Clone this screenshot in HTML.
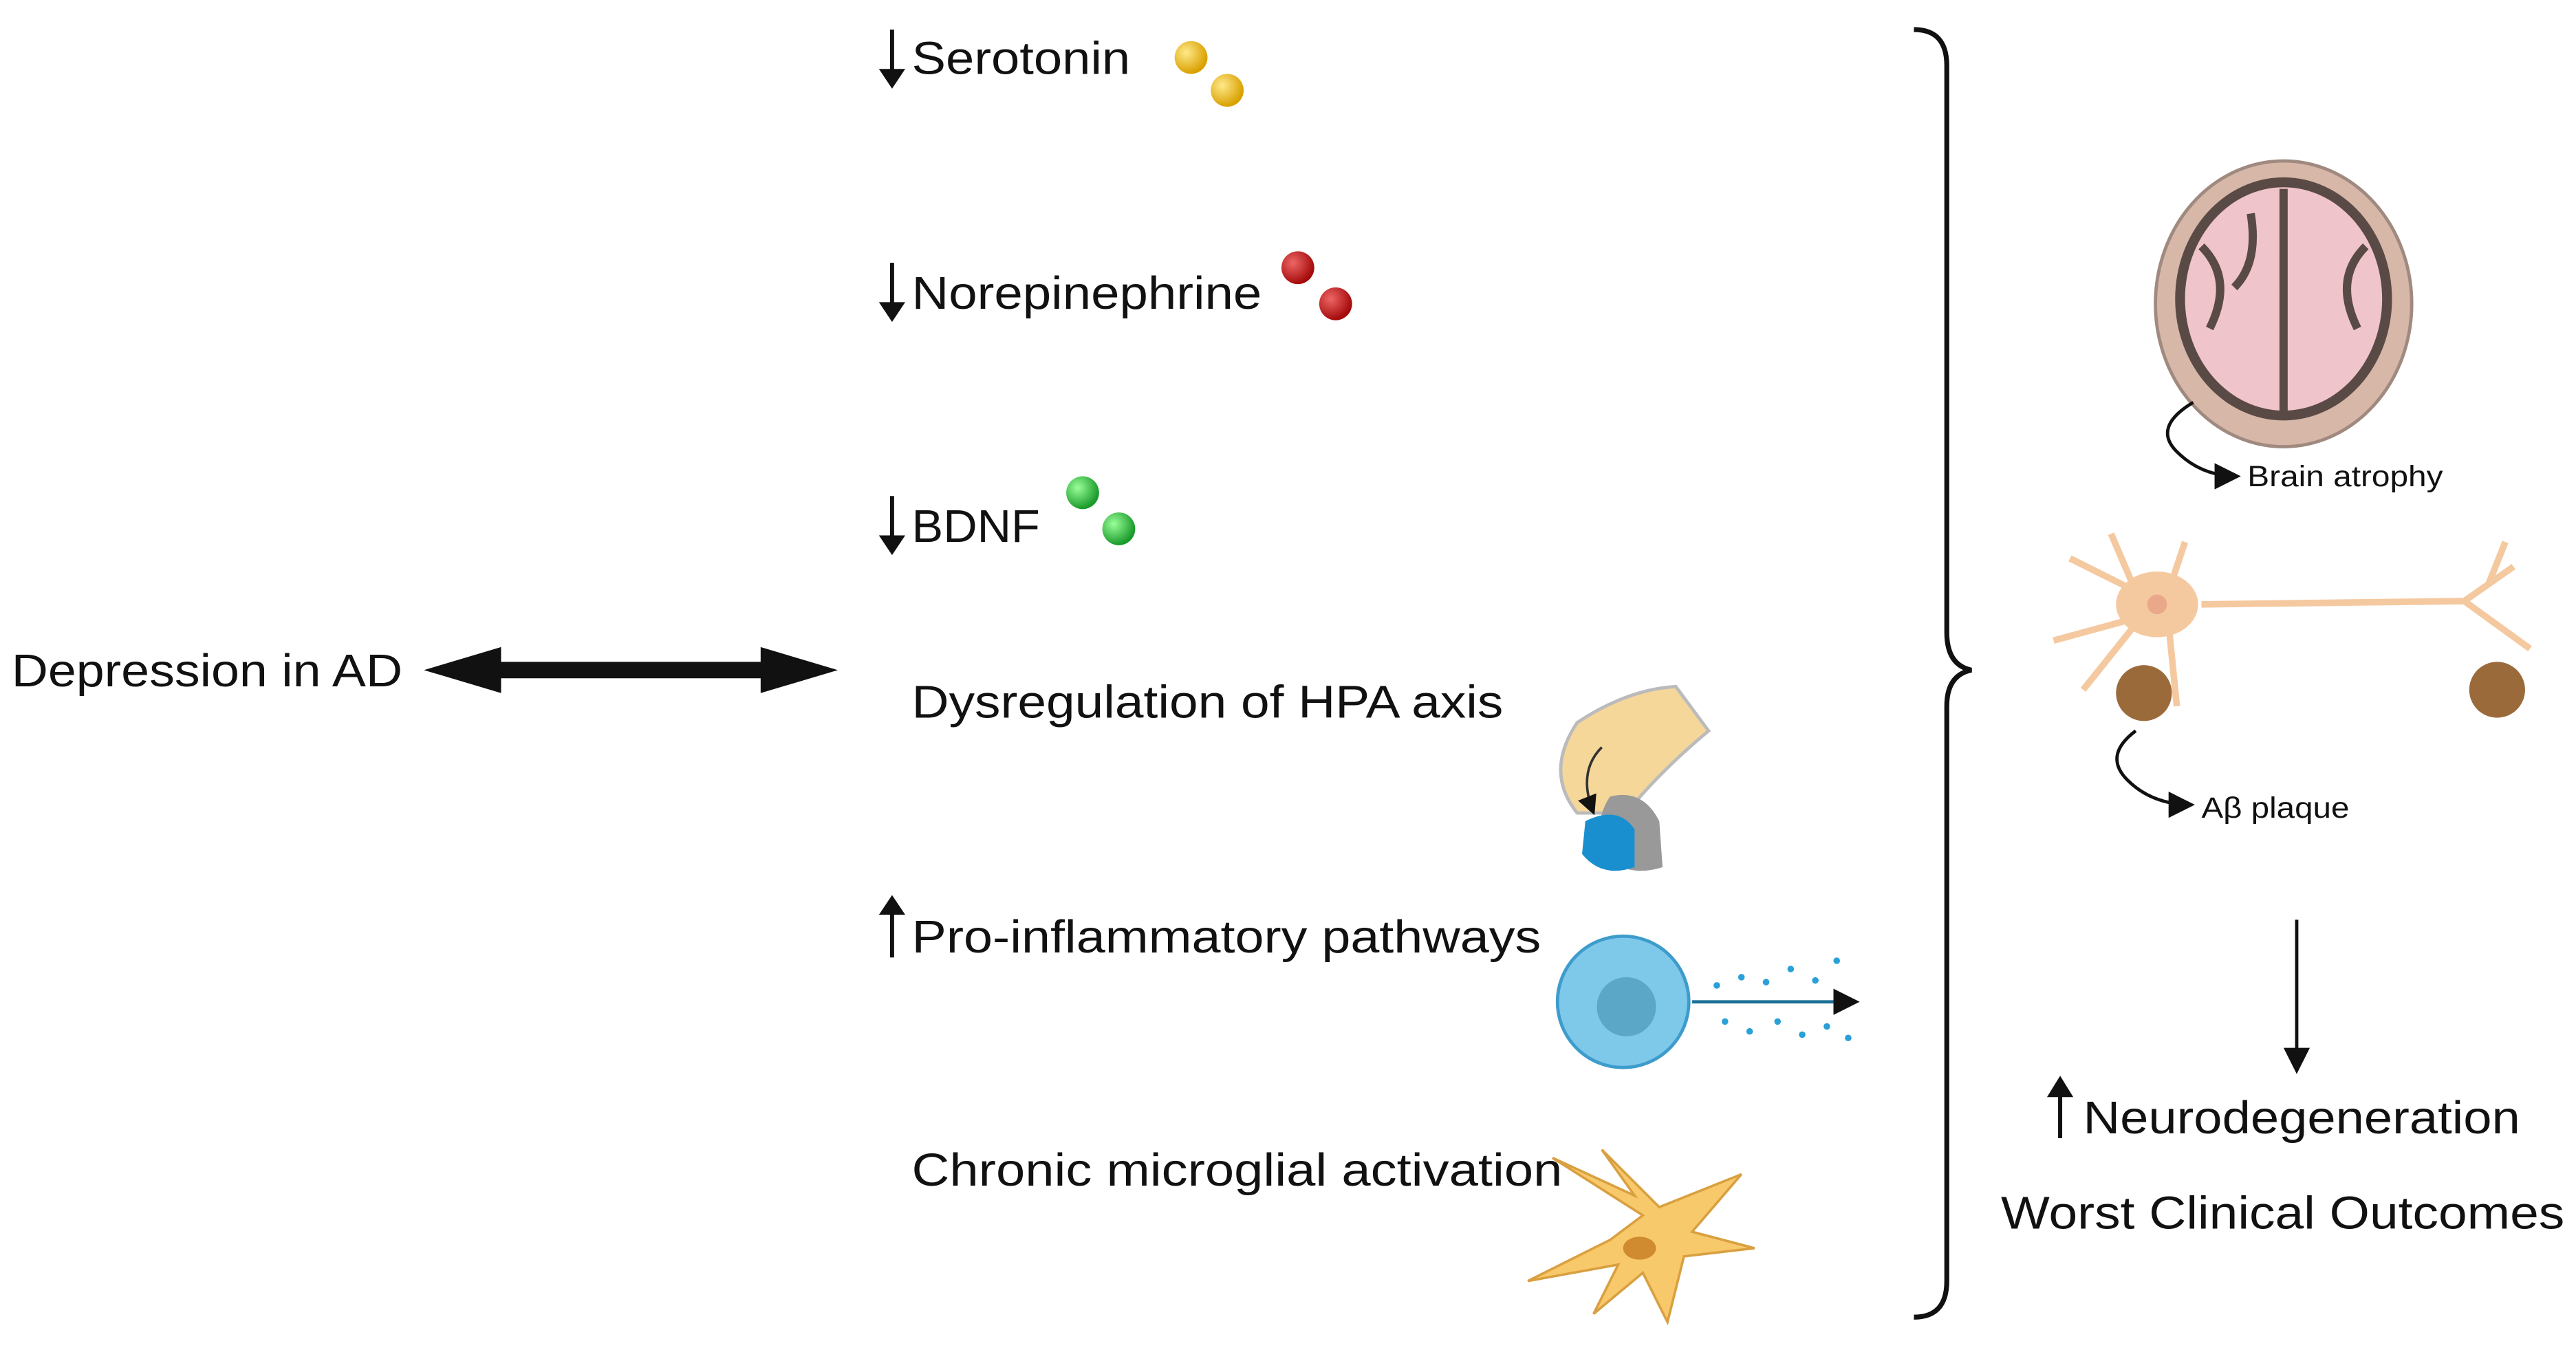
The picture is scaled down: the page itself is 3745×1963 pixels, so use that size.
<!DOCTYPE html>
<html><head><meta charset="utf-8"><style>
html,body{margin:0;padding:0;background:#fff;}
svg{display:block;}
text{font-family:"Liberation Sans",sans-serif;fill:#111;}
</style></head><body>
<svg width="3745" height="1963" viewBox="0 0 1568 822" preserveAspectRatio="none" xmlns="http://www.w3.org/2000/svg">
<defs>
<radialGradient id="gy" cx="35%" cy="35%" r="65%"><stop offset="0" stop-color="#ffe98a"/><stop offset="1" stop-color="#d9a000"/></radialGradient>
<radialGradient id="gr" cx="35%" cy="35%" r="65%"><stop offset="0" stop-color="#e66"/><stop offset="1" stop-color="#a50a0a"/></radialGradient>
<radialGradient id="gg" cx="35%" cy="35%" r="65%"><stop offset="0" stop-color="#9f9"/><stop offset="1" stop-color="#1a9a2a"/></radialGradient>
<marker id="ah" markerWidth="8" markerHeight="8" refX="7" refY="4" orient="auto"><path d="M0,0 L8,4 L0,8 z" fill="#111"/></marker>
</defs>
<text x="7" y="418" font-size="28" textLength="238" lengthAdjust="spacingAndGlyphs">Depression in AD</text>
<polygon points="258,408 305,394 305,403 463,403 463,394 510,408 463,422 463,413 305,413 305,422" fill="#111"/>
<g font-size="28">
<text x="555" y="45" textLength="133" lengthAdjust="spacingAndGlyphs">Serotonin</text>
<text x="555" y="188" textLength="213" lengthAdjust="spacingAndGlyphs">Norepinephrine</text>
<text x="555" y="330" textLength="78" lengthAdjust="spacingAndGlyphs">BDNF</text>
<text x="555" y="437" textLength="360" lengthAdjust="spacingAndGlyphs">Dysregulation of HPA axis</text>
<text x="555" y="580" textLength="383" lengthAdjust="spacingAndGlyphs">Pro-inflammatory pathways</text>
<text x="555" y="722" textLength="396" lengthAdjust="spacingAndGlyphs">Chronic microglial activation</text>
</g>
<g stroke="#111" stroke-width="2.5" fill="none">
<line x1="543" y1="18" x2="543" y2="48"/><line x1="543" y1="160" x2="543" y2="190"/><line x1="543" y1="302" x2="543" y2="332"/>
<line x1="543" y1="583" x2="543" y2="553"/>
</g>
<g fill="#111">
<polygon points="535,42 551,42 543,54"/><polygon points="535,184 551,184 543,196"/><polygon points="535,326 551,326 543,338"/>
<polygon points="535,557 551,557 543,545"/>
</g>
<circle cx="725" cy="35" r="10" fill="url(#gy)"/><circle cx="747" cy="55" r="10" fill="url(#gy)"/>
<circle cx="790" cy="163" r="10" fill="url(#gr)"/><circle cx="813" cy="185" r="10" fill="url(#gr)"/>
<circle cx="659" cy="300" r="10" fill="url(#gg)"/><circle cx="681" cy="322" r="10" fill="url(#gg)"/>
<path d="M960,440 Q990,420 1020,418 L1040,445 Q1010,470 990,495 L960,495 Q940,470 960,440z" fill="#f5d79a" stroke="#bbb" stroke-width="2"/>
<path d="M980,485 Q1000,480 1010,500 L1012,528 Q990,535 975,520 Q970,500 980,485z" fill="#999"/>
<path d="M965,500 Q985,490 995,505 L995,528 Q975,535 963,520z" fill="#1a8fd0"/>
<path d="M975,455 Q960,470 970,495" stroke="#333" stroke-width="1.5" fill="none" marker-end="url(#ah)"/>
<circle cx="988" cy="610" r="40" fill="#7ec8ea" stroke="#3d9ccc" stroke-width="2"/>
<circle cx="990" cy="613" r="18" fill="#5aa7c8"/>
<line x1="1030" y1="610" x2="1130" y2="610" stroke="#1a6f96" stroke-width="2" marker-end="url(#ah)"/>
<g fill="#2aa0d8">
<circle cx="1045" cy="600" r="2"/><circle cx="1060" cy="595" r="2"/><circle cx="1075" cy="598" r="2"/><circle cx="1090" cy="590" r="2"/><circle cx="1105" cy="597" r="2"/><circle cx="1118" cy="585" r="2"/>
<circle cx="1050" cy="622" r="2"/><circle cx="1065" cy="628" r="2"/><circle cx="1082" cy="622" r="2"/><circle cx="1097" cy="630" r="2"/><circle cx="1112" cy="625" r="2"/><circle cx="1125" cy="632" r="2"/>
</g>
<path d="M1000,740 L945,705 L995,728 L975,700 L1010,735 L1060,715 L1030,750 L1068,760 L1025,765 L1015,805 L1000,775 L970,800 L985,770 L930,780 L980,755z" fill="#f8c96a" stroke="#d9a040" stroke-width="1.5"/>
<ellipse cx="998" cy="760" rx="10" ry="7" fill="#d08a30"/>
<path d="M1165,18 Q1185,18 1185,40 L1185,385 Q1185,405 1200,408 Q1185,411 1185,430 L1185,780 Q1185,802 1165,802" stroke="#111" stroke-width="3" fill="none"/>
<ellipse cx="1390" cy="185" rx="78" ry="87" fill="#d7b7a8" stroke="#a08a80" stroke-width="2"/>
<ellipse cx="1390" cy="182" rx="66" ry="74" fill="#5a4a46"/>
<ellipse cx="1390" cy="182" rx="60" ry="68" fill="#f0c4cb"/>
<path d="M1390,115 L1390,250 M1340,150 Q1360,170 1345,200 M1440,150 Q1420,170 1435,200 M1370,130 Q1375,160 1360,175" stroke="#5a4a46" stroke-width="5" fill="none"/>
<path d="M1335,245 Q1310,260 1325,275 Q1340,290 1362,290" stroke="#111" stroke-width="2" fill="none" marker-end="url(#ah)"/>
<text x="1368" y="296" font-size="18" textLength="119" lengthAdjust="spacingAndGlyphs">Brain atrophy</text>
<g stroke="#f5c9a0" stroke-width="4" fill="none">
<path d="M1310,365 L1260,340 M1300,360 L1285,325 M1320,360 L1330,330 M1305,375 L1250,390 M1300,380 L1268,420 M1320,380 L1325,430"/>
<path d="M1340,368 L1500,366 M1500,366 L1530,345 M1500,366 L1540,395 M1515,355 L1525,330"/>
</g>
<ellipse cx="1313" cy="368" rx="25" ry="20" fill="#f5c9a0"/>
<circle cx="1313" cy="368" r="6" fill="#e9a88a"/>
<circle cx="1305" cy="422" r="17" fill="#9b6a3a"/>
<circle cx="1520" cy="420" r="17" fill="#9b6a3a"/>
<path d="M1300,445 Q1280,460 1295,475 Q1310,490 1334,490" stroke="#111" stroke-width="2" fill="none" marker-end="url(#ah)"/>
<text x="1340" y="498" font-size="18" textLength="90" lengthAdjust="spacingAndGlyphs">Aβ plaque</text>
<line x1="1398" y1="560" x2="1398" y2="652" stroke="#111" stroke-width="2" marker-end="url(#ah)"/>
<line x1="1254" y1="693" x2="1254" y2="665" stroke="#111" stroke-width="2.5"/>
<polygon points="1246,668 1262,668 1254,655" fill="#111"/>
<text x="1268" y="690" font-size="28" textLength="266" lengthAdjust="spacingAndGlyphs">Neurodegeneration</text>
<text x="1218" y="748" font-size="28" textLength="343" lengthAdjust="spacingAndGlyphs">Worst Clinical Outcomes</text>
</svg>
</body></html>
